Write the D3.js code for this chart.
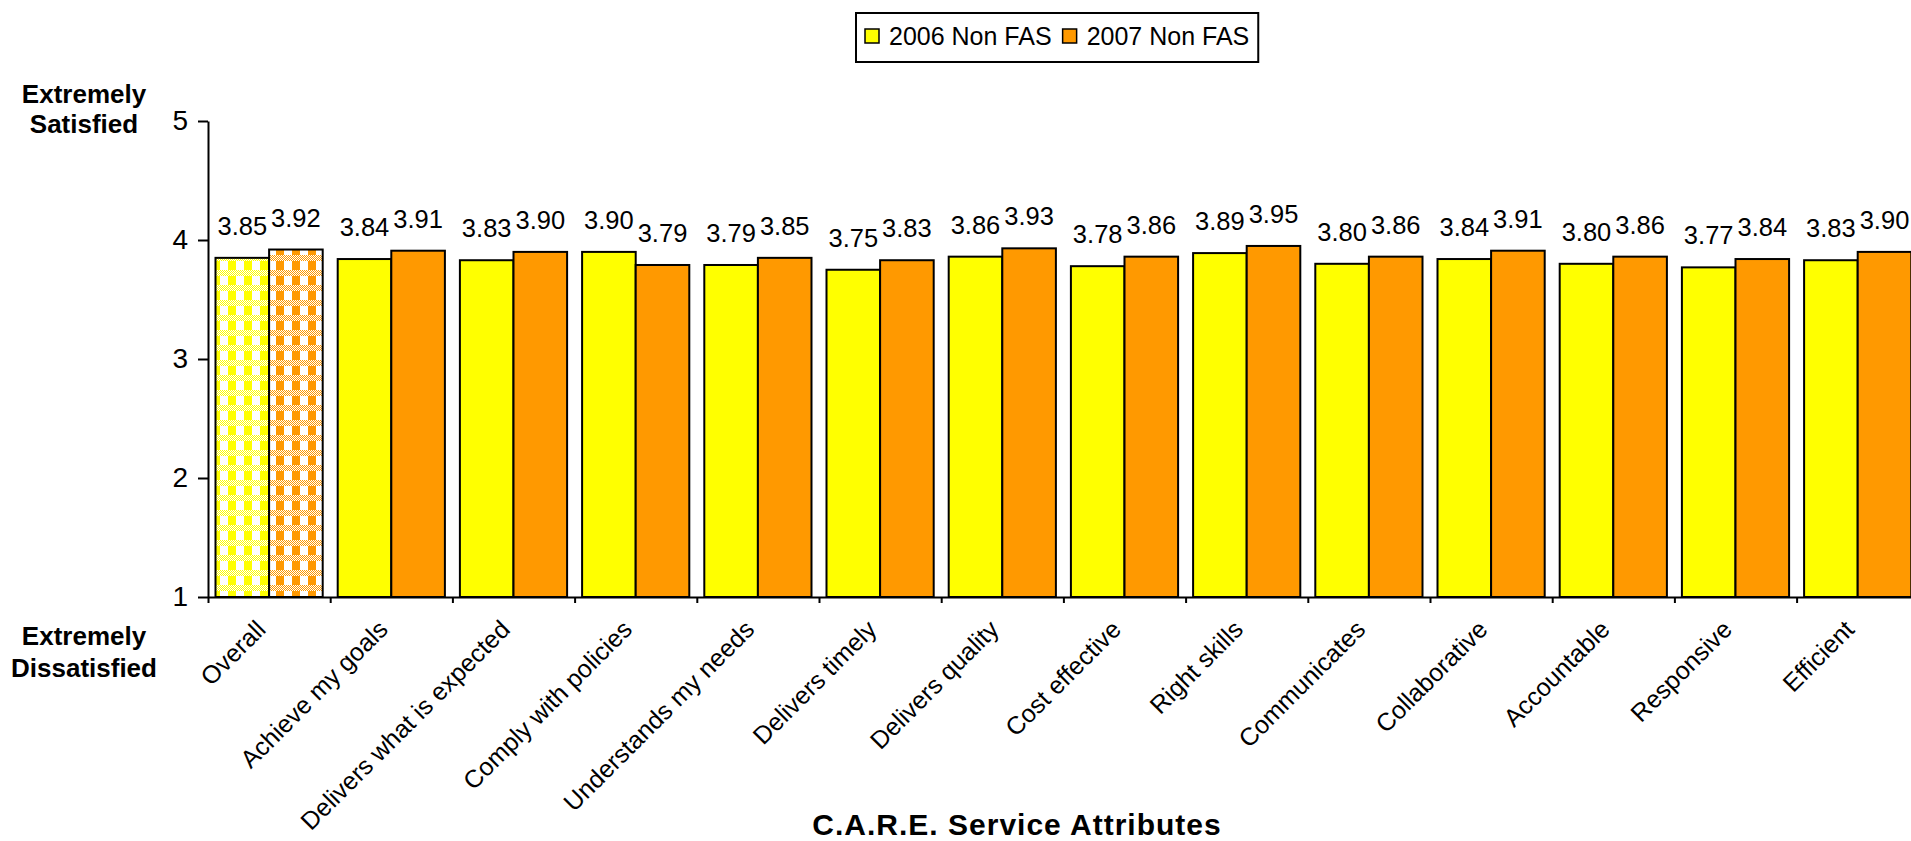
<!DOCTYPE html>
<html>
<head>
<meta charset="utf-8">
<script src="https://cdn.jsdelivr.net/npm/d3@7"></script>
<style>
  body { margin: 0; background: #fff; }
  text { font-family: "Liberation Sans", Arial, sans-serif; fill: #000; }
</style>
</head>
<body>
<div class="chart"></div>
<script>
const categories = ["Overall", "Achieve my goals", "Delivers what is expected", "Comply with policies",
  "Understands my needs", "Delivers timely", "Delivers quality", "Cost effective", "Right skills",
  "Communicates", "Collaborative", "Accountable", "Responsive", "Efficient"]
const series = ["2006 Non FAS", "2007 Non FAS"]
const values2006 = [3.85, 3.84, 3.83, 3.90, 3.79, 3.75, 3.86, 3.78, 3.89, 3.80, 3.84, 3.80, 3.77, 3.83]
const values2007 = [3.92, 3.91, 3.90, 3.79, 3.85, 3.83, 3.93, 3.86, 3.95, 3.86, 3.91, 3.86, 3.84, 3.90]
const yTicks = [1, 2, 3, 4, 5]
const colors = ["#ffff00", "#ff9900"]

const width = 1911, height = 841
const left = 208, step = 122.2
const n = categories.length

const data = categories.map((c, i) => ({category: c, values: [values2006[i], values2007[i]]}))

const svg = d3.select('.chart').append('svg')
    .attr("width", width)
    .attr("height", height)

// patterns for the "Overall" bars
const defs = svg.append("defs")
colors.forEach((col, i) => {
    const dith = defs.append("pattern")
        .attr("id", "dith" + i)
        .attr("width", 2).attr("height", 2)
        .attr("patternUnits", "userSpaceOnUse")
    dith.append("rect").attr("width", 2).attr("height", 2).attr("fill", "#fff")
    dith.append("rect").attr("width", 1).attr("height", 1).attr("fill", col)
    dith.append("rect").attr("x", 1).attr("y", 1).attr("width", 1).attr("height", 1).attr("fill", col)

    const p = defs.append("pattern")
        .attr("id", "plaid" + i)
        .attr("width", 16).attr("height", 15)
        .attr("patternUnits", "userSpaceOnUse")
    p.append("rect").attr("width", 16).attr("height", 15).attr("fill", "#fff")
    p.append("rect").attr("x", 4).attr("width", 8).attr("height", 15).attr("fill", col)
    p.append("rect").attr("y", 0).attr("width", 16).attr("height", 6).attr("fill", `url(#dith${i})`)
})

// SCALES
const x0 = d3.scaleBand()
    .domain(categories)
    .range([left, left + step * n])

const x1 = d3.scaleBand()
    .domain(series)
    .range([7.5, step - 7.5])

const xi = d3.scaleLinear()
    .domain([0, n])
    .range([left, left + step * n])

const y = d3.scaleLinear()
    .domain([1, 5])
    .range([597, 121])

// BARS
const groups = svg.append("g")
    .selectAll("g")
    .data(data)
    .join("g")
    .attr("transform", d => `translate(${x0(d.category)},0)`)

groups.selectAll("rect")
    .data((d, ci) => d.values.map((v, si) => ({v, si, ci})))
    .join("rect")
    .attr("x", d => x1(series[d.si]))
    .attr("y", d => y(d.v))
    .attr("width", x1.bandwidth())
    .attr("height", d => y(1) - y(d.v))
    .attr("fill", d => d.ci === 0 ? `url(#plaid${d.si})` : colors[d.si])
    .attr("stroke", "#000")
    .attr("stroke-width", 2)

groups.selectAll("text.val")
    .data(d => d.values.map((v, si) => ({v, si})))
    .join("text")
    .attr("class", "val")
    .attr("x", d => x1(series[d.si]) + x1.bandwidth() / 2)
    .attr("y", d => y(d.v) - 23)
    .attr("text-anchor", "middle")
    .attr("font-size", 25.5)
    .text(d => d3.format(".2f")(d.v))

// AXES
const yAxis = d3.axisLeft(y)
    .tickValues(yTicks)
    .tickSize(10)
    .tickPadding(10)
    .tickSizeOuter(0)
    .tickFormat(d3.format("d"))

const gy = svg.append("g")
    .attr("transform", `translate(${left},0)`)
    .call(yAxis)
gy.selectAll("text").attr("font-size", 28).attr("font-family", "Liberation Sans, Arial, sans-serif")

const xAxis = d3.axisBottom(xi)
    .tickValues(d3.range(n + 1))
    .tickSize(6)
    .tickSizeOuter(0)
    .tickFormat("")

svg.append("g")
    .attr("transform", `translate(0,${y(1)})`)
    .call(xAxis)

svg.selectAll(".domain, .tick line").attr("stroke", "#000").attr("stroke-width", 2)

// CATEGORY LABELS
svg.append("g")
    .selectAll("text")
    .data(categories)
    .join("text")
    .attr("transform", d => `translate(${x0(d) + step / 2 - 2},631) rotate(-45)`)
    .attr("text-anchor", "end")
    .attr("font-size", 25)
    .text(d => d)

// AXIS TITLES
const yTop = svg.append("text").attr("text-anchor", "middle").attr("font-size", 26).attr("font-weight", "bold")
yTop.append("tspan").attr("x", 84).attr("y", 103).text("Extremely")
yTop.append("tspan").attr("x", 84).attr("y", 133).text("Satisfied")

const yBot = svg.append("text").attr("text-anchor", "middle").attr("font-size", 26).attr("font-weight", "bold")
yBot.append("tspan").attr("x", 84).attr("y", 645).text("Extremely")
yBot.append("tspan").attr("x", 84).attr("y", 677).text("Dissatisfied")

svg.append("text")
    .attr("x", 1017)
    .attr("y", 835)
    .attr("text-anchor", "middle")
    .attr("font-size", 30)
    .attr("letter-spacing", 1)
    .attr("font-weight", "bold")
    .text("C.A.R.E. Service Attributes")

// LEGEND
const legend = svg.append("g")
const box = legend.append("rect")
    .attr("x", 856).attr("y", 13).attr("height", 49)
    .attr("fill", "#fff").attr("stroke", "#000").attr("stroke-width", 2)

let lx = 865
series.forEach((s, i) => {
    legend.append("rect")
        .attr("x", lx).attr("y", 29).attr("width", 14).attr("height", 14)
        .attr("fill", colors[i]).attr("stroke", "#000").attr("stroke-width", 1.5)
    const t = legend.append("text")
        .attr("x", lx + 24).attr("y", 45)
        .attr("font-size", 25)
        .text(s)
    lx = lx + 24 + t.node().getComputedTextLength() + 11
})
box.attr("width", lx - 11 + 9 - 856)
</script>
</body>
</html>
